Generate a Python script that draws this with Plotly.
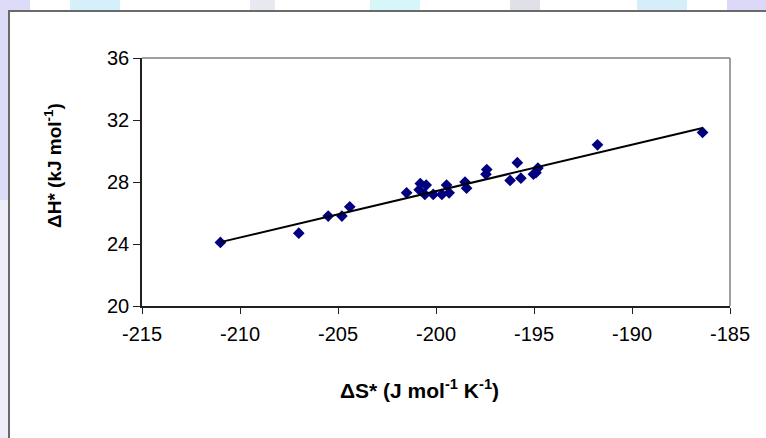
import plotly.graph_objects as go

# Data
dS = [-211.0, -207.0, -205.5, -204.8, -204.4, -201.5, -200.86, -200.8, -200.57,
      -200.5, -200.14, -199.7, -199.46, -199.33, -198.52, -198.44, -197.45,
      -197.41, -196.22, -195.85, -195.67, -195.03, -194.9, -194.8, -191.76, -186.4]
dH = [24.1, 24.7, 25.8, 25.8, 26.4, 27.3, 27.5, 27.9, 27.2,
      27.8, 27.2, 27.2, 27.8, 27.3, 28.0, 27.6, 28.5,
      28.8, 28.1, 29.25, 28.25, 28.5, 28.6, 28.9, 30.4, 31.2]
fit_S = [-211.0, -186.4]
fit_H = [24.12, 31.48]

x_ticks = [-215, -210, -205, -200, -195, -190, -185]
y_ticks = [20, 24, 28, 32, 36]

W, H = 766, 438
L, R, T, B = 142, 36, 58, 132
PW, PH = W - L - R, H - T - B


def px(x):
    return (x - L) / PW


def py(y):
    return (H - B - y) / PH


fig = go.Figure()
fig.add_trace(go.Scatter(x=dS, y=dH, mode="markers",
                         marker=dict(symbol="diamond", size=9, color="#000080",
                                     line=dict(width=0)),
                         showlegend=False, cliponaxis=False))
fig.add_trace(go.Scatter(x=fit_S, y=fit_H, mode="lines",
                         line=dict(color="black", width=2),
                         showlegend=False))

shapes = []
# background strips (outside chart box)
shapes.append(dict(type="rect", xref="paper", yref="paper", x0=px(-5), x1=px(9),
                   y0=py(460), y1=py(-5), fillcolor="#eeeefa", line=dict(width=0), layer="below"))
shapes.append(dict(type="rect", xref="paper", yref="paper", x0=px(-5), x1=px(9),
                   y0=py(200), y1=py(-5), fillcolor="#dcdcf8", line=dict(width=0), layer="below"))
patches = [(0, 30, "#dcdcf8"), (70, 120, "#d6f0fb"), (250, 275, "#e8e8f0"),
           (370, 420, "#d6f6fa"), (510, 540, "#e0e0e8"), (637, 687, "#d6eefa"),
           (727, 770, "#dcd8f8")]
for a, b, c in patches:
    shapes.append(dict(type="rect", xref="paper", yref="paper", x0=px(a), x1=px(b),
                       y0=py(11), y1=py(-5), fillcolor=c, line=dict(width=0), layer="below"))
# white chart box with border
shapes.append(dict(type="rect", xref="paper", yref="paper", x0=px(9), x1=px(800),
                   y0=py(470), y1=py(11), fillcolor="white",
                   line=dict(color="#6a6a6a", width=2), layer="below"))
# top and right plot border (gray)
shapes.append(dict(type="line", xref="paper", yref="paper", x0=0, x1=1, y0=1, y1=1,
                   line=dict(color="#808080", width=1.5)))
shapes.append(dict(type="line", xref="paper", yref="paper", x0=1, x1=1, y0=0, y1=1,
                   line=dict(color="#808080", width=1.5)))

fig.update_layout(
    width=W, height=H,
    margin=dict(l=L, r=R, t=T, b=B),
    paper_bgcolor="white", plot_bgcolor="white",
    font=dict(family="Liberation Sans, Arial, sans-serif", color="black", size=20),
    shapes=shapes,
    annotations=[
        dict(text="<b>ΔS* (J mol<sup>-1</sup> K<sup>-1</sup>)</b>", xref="paper", yref="paper",
             x=px(419), y=py(389), xanchor="center", yanchor="middle", showarrow=False,
             font=dict(size=21)),
        dict(text="<b>ΔH* (kJ mol<sup>-1</sup>)</b>", xref="paper", yref="paper",
             x=px(53), y=py(166), xanchor="center", yanchor="middle", showarrow=False,
             textangle=-90, font=dict(size=19)),
    ],
)
fig.update_xaxes(range=[-215, -185], tickvals=x_ticks, ticktext=[str(v) for v in x_ticks],
                 showgrid=False, zeroline=False, showline=True, linecolor="#202020",
                 linewidth=1.5, ticks="outside", ticklen=6, tickcolor="#202020",
                 tickfont=dict(size=20), ticklabelstandoff=3)
fig.update_yaxes(range=[20, 36], tickvals=y_ticks, ticktext=[str(v) for v in y_ticks],
                 showgrid=False, zeroline=False, showline=True, linecolor="#202020",
                 linewidth=1.5, ticks="outside", ticklen=7, tickcolor="#202020",
                 tickfont=dict(size=20))

fig.write_html("out.html", config={"displayModeBar": False},
               post_script="document.body.style.margin='0';document.body.style.overflow='hidden';")
